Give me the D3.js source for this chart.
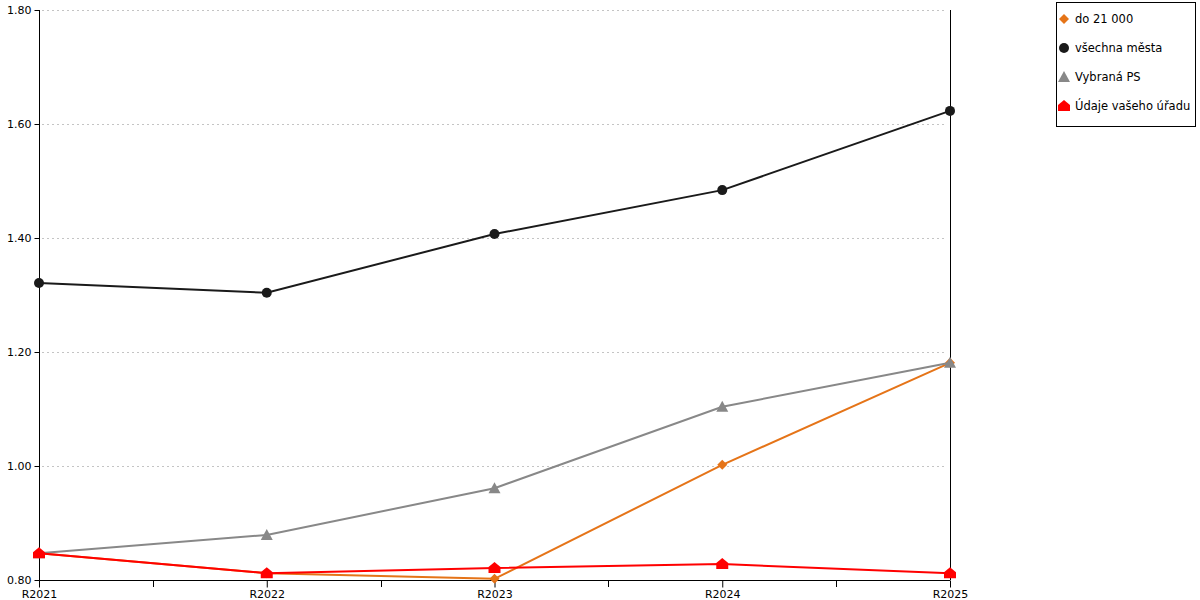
<!DOCTYPE html>
<html><head><meta charset="utf-8">
<script src="https://cdn.jsdelivr.net/npm/d3@7"></script>
<style>body{margin:0;background:#fff}svg{font-family:"DejaVu Sans",Verdana,sans-serif}</style>
</head><body><svg id="c" width="1200" height="600"></svg>
<script>
const categories = ["R2021","R2022","R2023","R2024","R2025"];
const seriesNames = ["do 21 000","všechna města","Vybraná PS","Údaje vašeho úřadu"];
const seriesColors = ["#e57418","#1a1a1a","#888888","#ff0000"];
const seriesShapes = ["diamond","circle","triangle","house"];
const valuesDo21000 = [0.847, 0.812, 0.802, 1.002, 1.181];
const valuesVsechna = [1.321, 1.304, 1.407, 1.484, 1.623];
const valuesVybrana = [0.847, 0.879, 0.961, 1.104, 1.181];
const valuesUrad = [0.847, 0.812, 0.821, 0.828, 0.812];
const yTicks = [0.80, 1.00, 1.20, 1.40, 1.60, 1.80];
const seriesValues = [valuesDo21000, valuesVsechna, valuesVybrana, valuesUrad];

const svg = d3.select("#c");
const L = 39, R = 950, T = 10, B = 580;
const x = d3.scalePoint().domain(categories).range([L, R]);
const y = d3.scaleLinear().domain([0.8, 1.8]).range([B, T]);

// gridlines
svg.append("g").selectAll("line").data(yTicks.slice(1)).join("line")
  .attr("x1", L + 3).attr("x2", R - 3).attr("y1", d => Math.round(y(d)) + 0.5).attr("y2", d => Math.round(y(d)) + 0.5)
  .attr("stroke", "#c4c4c4").attr("stroke-dasharray", "2,3").attr("stroke-width", 1)
  .attr("shape-rendering", "crispEdges");

// right border line
svg.append("line").attr("x1", R + 0.5).attr("x2", R + 0.5).attr("y1", T).attr("y2", B)
  .attr("stroke", "#000");

// y axis
const yAxis = svg.append("g").attr("transform", `translate(${L + 0.5},0)`)
  .call(d3.axisLeft(y).tickValues(yTicks).tickFormat(d3.format(".2f")).tickSize(5).tickPadding(3));
yAxis.select(".domain").attr("d", `M0,${T}V${B}`);
yAxis.selectAll("text").attr("font-size", 11).attr("fill", "#000").attr("font-family", "DejaVu Sans");

// x axis
const xAxis = svg.append("g").attr("transform", `translate(0,${B + 0.5})`)
  .call(d3.axisBottom(x).tickSize(7).tickPadding(3));
xAxis.select(".domain").attr("d", `M${L},0H${R}`);
xAxis.selectAll("text").attr("font-size", 11).attr("fill", "#000").attr("font-family", "DejaVu Sans");
// minor ticks between categories
const mids = categories.slice(0, -1).map((c, i) => (x(c) + x(categories[i + 1])) / 2);
svg.append("g").selectAll("line").data(mids).join("line")
  .attr("x1", d => Math.round(d) + 0.5).attr("x2", d => Math.round(d) + 0.5)
  .attr("y1", B).attr("y2", B + 7).attr("stroke", "#000");

function shapePath(s, cx, cy) {
  if (s === "diamond") return `M${cx},${cy - 5}L${cx + 5},${cy}L${cx},${cy + 5}L${cx - 5},${cy}Z`;
  if (s === "triangle") return `M${cx},${cy - 6}L${cx + 6},${cy + 5}L${cx - 6},${cy + 5}Z`;
  if (s === "house") return `M${cx},${cy - 6}L${cx + 6},${cy - 1}L${cx + 6},${cy + 5}L${cx - 6},${cy + 5}L${cx - 6},${cy - 1}Z`;
  return d3.symbol(d3.symbolCircle, 80)();
}

const line = d3.line().x((d, i) => x(categories[i])).y(d => y(d));
seriesValues.forEach((vals, si) => {
  const g = svg.append("g");
  g.append("path").attr("d", line(vals)).attr("fill", "none")
    .attr("stroke", seriesColors[si]).attr("stroke-width", 2);
  vals.forEach((v, i) => {
    const cx = x(categories[i]), cy = y(v);
    if (seriesShapes[si] === "circle") {
      g.append("circle").attr("cx", cx).attr("cy", cy).attr("r", 5).attr("fill", seriesColors[si]);
    } else {
      g.append("path").attr("d", shapePath(seriesShapes[si], cx, cy)).attr("fill", seriesColors[si]);
    }
  });
});

// legend
const lg = svg.append("g");
lg.append("rect").attr("x", 1056.5).attr("y", 2.5).attr("width", 139).attr("height", 124)
  .attr("fill", "#fff").attr("stroke", "#000");
seriesNames.forEach((n, i) => {
  const cy = 19 + i * 29;
  if (seriesShapes[i] === "circle") {
    lg.append("circle").attr("cx", 1064).attr("cy", cy).attr("r", 5).attr("fill", seriesColors[i]);
  } else {
    lg.append("path").attr("d", shapePath(seriesShapes[i], 1064, cy)).attr("fill", seriesColors[i]);
  }
  lg.append("text").attr("x", 1075).attr("y", cy).attr("dy", "0.35em")
    .attr("font-size", 11.5).attr("fill", "#000").text(n);
});
</script></body></html>
